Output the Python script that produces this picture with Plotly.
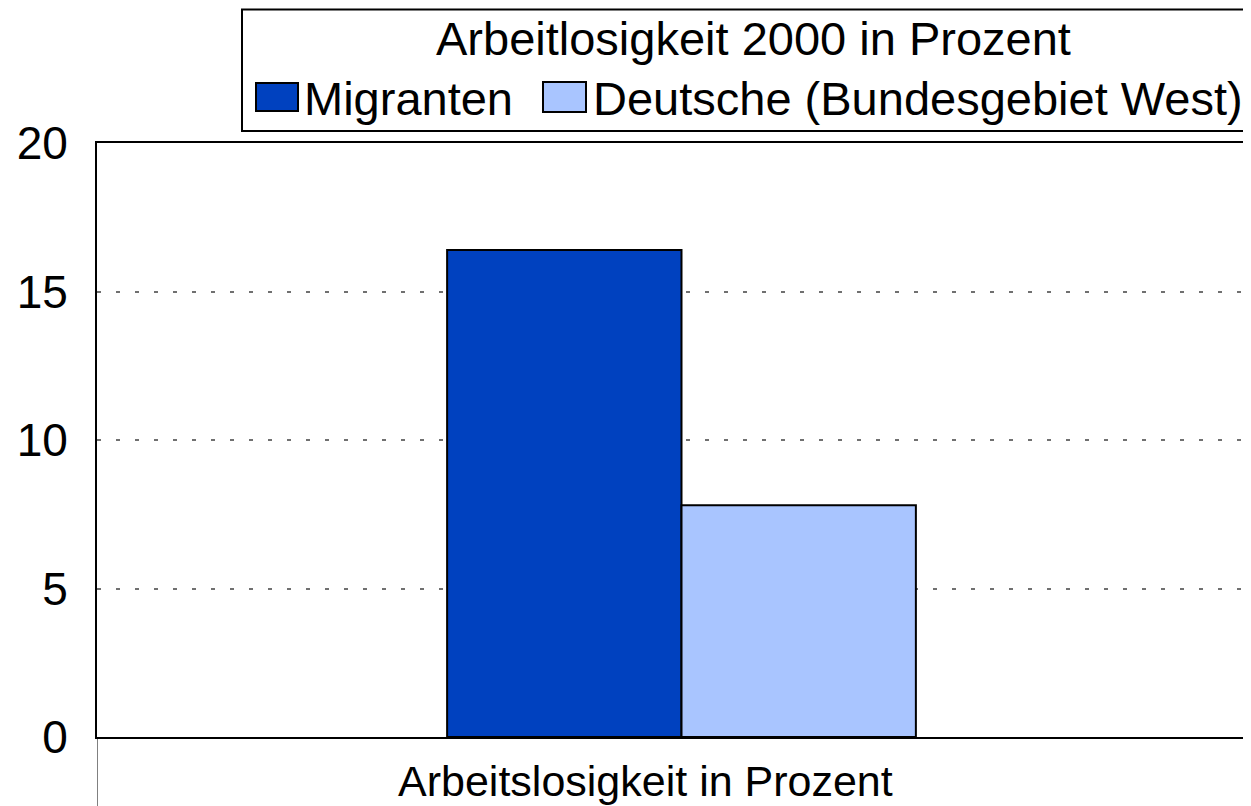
import plotly.graph_objects as go

# ---- data ----
categories = ["Arbeitslosigkeit in Prozent"]
series_names = ["Migranten", "Deutsche (Bundesgebiet West)"]
migranten = [16.4]
deutsche = [7.8]
series_values = [migranten, deutsche]
series_colors = ["#0041BF", "#A9C5FF"]
y_ticks = [0, 5, 10, 15, 20]
legend_title = "Arbeitlosigkeit 2000 in Prozent"

FONT = "Liberation Sans, Arial, sans-serif"
OFF = 8  # page body margin offset
W, H = 1251 - OFF, 806 - OFF
L, R, T, B = 97 - OFF, 0, 143 - OFF, 69
PW, PH = W - L - R, H - T - B


def px(x):
    return (x - OFF - L) / PW


def py(y):
    return (H - B - (y - OFF)) / PH


fig = go.Figure()
for name, vals, col in zip(series_names, series_values, series_colors):
    fig.add_trace(go.Bar(
        x=categories, y=vals, name=name,
        marker=dict(color=col, line=dict(color="black", width=2)),
        showlegend=False,
    ))

cat_px = 1169.0
x_hi = -0.5 + PW / cat_px

shapes = []
annotations = []

# manual legend box
shapes.append(dict(type="rect", xref="paper", yref="paper",
                   x0=px(242), x1=px(1264), y0=py(131), y1=py(9.5),
                   line=dict(color="black", width=2), fillcolor="white", layer="above"))
annotations.append(dict(text=legend_title, xref="paper", yref="paper",
                        x=px(753), y=py(38), xanchor="center", yanchor="middle",
                        showarrow=False, font=dict(family=FONT, size=47, color="black")))
sw = [(256, 298, 83, 111, 302), (543, 586, 82, 112, 591)]
for (x0, x1, y0, y1, tx), name, col in zip(sw, series_names, series_colors):
    shapes.append(dict(type="rect", xref="paper", yref="paper",
                       x0=px(x0), x1=px(x1), y0=py(y1), y1=py(y0),
                       line=dict(color="black", width=2), fillcolor=col, layer="above"))
    annotations.append(dict(text=name, xref="paper", yref="paper",
                            x=px(tx), y=py(98), xanchor="left", yanchor="middle",
                            showarrow=False, font=dict(family=FONT, size=47, color="black")))

# category label
annotations.append(dict(text=categories[0], xref="x", yref="paper",
                        x=categories[0], y=py(781), xshift=-36,
                        xanchor="center", yanchor="middle", showarrow=False,
                        font=dict(family=FONT, size=43, color="black")))

fig.update_layout(
    width=W, height=H,
    margin=dict(l=L, r=R, t=T, b=B, pad=0),
    paper_bgcolor="white", plot_bgcolor="white",
    barmode="group", bargap=0.599, bargroupgap=0,
    shapes=shapes, annotations=annotations,
    font=dict(family=FONT, color="black"),
)
fig.update_xaxes(
    type="category", range=[-0.5, x_hi],
    showline=True, linecolor="black", linewidth=2, mirror=True,
    showgrid=False, zeroline=False,
    ticks="outside", tickson="boundaries", ticklen=B, tickcolor="#808080", tickwidth=1,
    showticklabels=False,
)
fig.update_yaxes(
    range=[0, 20], tickvals=y_ticks,
    showline=True, linecolor="black", linewidth=2, mirror=False,
    showgrid=True, gridcolor="#707070", gridwidth=1.5, griddash="4px,15px",
    zeroline=False, ticks="", ticklabelstandoff=18,
    tickfont=dict(family=FONT, size=46, color="black"),
)

fig.write_html("out.html")
